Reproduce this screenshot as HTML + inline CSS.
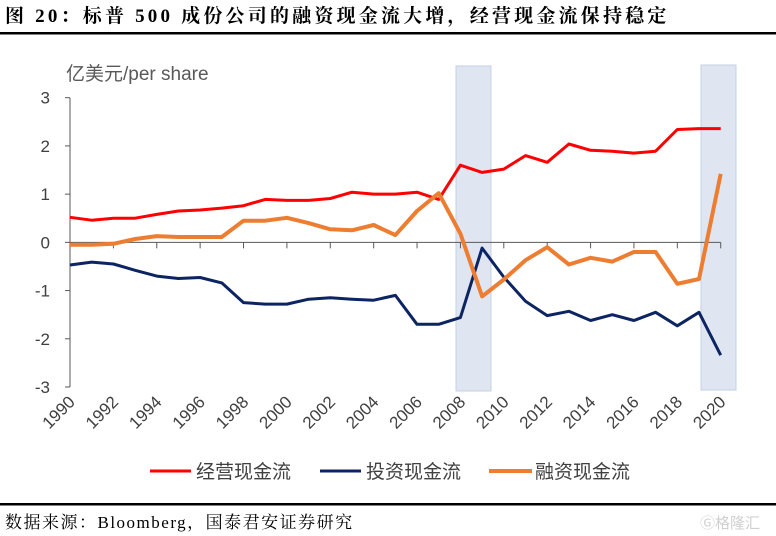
<!DOCTYPE html>
<html><head><meta charset="utf-8">
<style>
body{margin:0;background:#fff;width:776px;height:536px;overflow:hidden;}
svg{display:block;}
</style></head>
<body>
<svg id="chart" width="776" height="536" xmlns="http://www.w3.org/2000/svg">
<text x="5" y="22" font-family="'Liberation Serif','Noto Serif CJK SC',serif" font-weight="bold" font-size="19" letter-spacing="3.2" fill="#000">图 20：标普 500 成份公司的融资现金流大增，经营现金流保持稳定</text>
<rect x="0" y="32" width="776" height="2.5" fill="#000"/>
<rect x="456" y="66" width="35" height="325" fill="#dfe6f2" stroke="#c5d0e2" stroke-width="1"/>
<rect x="701" y="65" width="35" height="325" fill="#dfe6f2" stroke="#c5d0e2" stroke-width="1"/>
<text x="66" y="80" font-family="'Liberation Sans','Noto Sans CJK SC',sans-serif" font-size="19" fill="#595959">亿美元/per share</text>
<g id="axes"></g>
<g id="series"></g>
<g font-family="'Liberation Sans','Noto Sans CJK SC',sans-serif" font-size="19" fill="#404040">
<line x1="150" y1="471" x2="191" y2="471" stroke="#ff0000" stroke-width="3"/>
<text x="196" y="478">经营现金流</text>
<line x1="320" y1="471" x2="361" y2="471" stroke="#0c2461" stroke-width="3"/>
<text x="366" y="478">投资现金流</text>
<line x1="489" y1="471" x2="532" y2="471" stroke="#ed7d31" stroke-width="4"/>
<text x="535" y="478">融资现金流</text>
</g>
<rect x="0" y="503" width="776" height="2.5" fill="#000"/>
<text x="5" y="528" font-family="'Liberation Serif','Noto Serif CJK SC',serif" font-size="17" letter-spacing="1.5" fill="#000">数据来源：Bloomberg，国泰君安证券研究</text>
<text x="700" y="528" font-family="'Liberation Sans','Noto Sans CJK SC',sans-serif" font-size="15" fill="#d0d0d0">Ⓖ格隆汇</text>
</svg>
<script>
const years=[1990,1991,1992,1993,1994,1995,1996,1997,1998,1999,2000,2001,2002,2003,2004,2005,2006,2007,2008,2009,2010,2011,2012,2013,2014,2015,2016,2017,2018,2019,2020];
const operating=[0.52,0.46,0.5,0.5,0.58,0.65,0.67,0.71,0.76,0.89,0.87,0.87,0.91,1.04,1.0,1.0,1.04,0.89,1.6,1.45,1.52,1.8,1.66,2.04,1.91,1.89,1.85,1.89,2.34,2.36,2.36];
const investing=[-0.47,-0.41,-0.45,-0.58,-0.7,-0.75,-0.73,-0.84,-1.25,-1.28,-1.28,-1.18,-1.15,-1.18,-1.2,-1.1,-1.7,-1.7,-1.56,-0.12,-0.72,-1.22,-1.52,-1.43,-1.62,-1.5,-1.62,-1.45,-1.73,-1.45,-2.34];
const financing=[-0.05,-0.05,-0.03,0.07,0.13,0.11,0.11,0.11,0.45,0.45,0.51,0.4,0.27,0.25,0.36,0.15,0.65,1.02,0.18,-1.12,-0.77,-0.37,-0.1,-0.46,-0.32,-0.4,-0.2,-0.2,-0.86,-0.76,1.42];
const yTicks=[3,2,1,0,-1,-2,-3];
const xTickLabels=["1990","1992","1994","1996","1998","2000","2002","2004","2006","2008","2010","2012","2014","2016","2018","2020"];

const NS="http://www.w3.org/2000/svg";
const X0=70,X1=720.7,Y3=97.7,Yn3=387;
function xs(i){return X0+(X1-X0)*i/(years.length-1);}
function ys(v){return Y3+(3-v)*(Yn3-Y3)/6;}
function mk(t,a,p){const e=document.createElementNS(NS,t);for(const k in a)e.setAttribute(k,a[k]);p.appendChild(e);return e;}
const ax=document.getElementById('axes');
let yl=mk('line',{x1:X0,y1:Y3,x2:X0,y2:Yn3,stroke:'#595959','stroke-width':1},ax);


yTicks.forEach(v=>{
  const t=mk('line',{x1:X0-5,y1:ys(v),x2:X0,y2:ys(v),stroke:'#595959'},ax);
  
  
  const l=mk('text',{x:X0-20,y:ys(v)+6,'text-anchor':'end','font-family':"'Liberation Sans',sans-serif",'font-size':17,fill:'#404040'},ax);
  l.textContent=String(v);
  
  
});
let xl=mk('line',{x1:X0,y1:ys(0),x2:X1,y2:ys(0),stroke:'#595959','stroke-width':1},ax);


xTickLabels.forEach(s=>{
  const i=years.indexOf(+s);const x=xs(i);
  const t=mk('line',{x1:x,y1:ys(0),x2:x,y2:ys(0)+6,stroke:'#595959'},ax);
  
  
  const l=mk('text',{x:x+6,y:403,'text-anchor':'end','font-family':"'Liberation Sans',sans-serif",'font-size':17,fill:'#404040',transform:`rotate(-45 ${x+6} 403)`},ax);
  l.textContent=s;
  
  
});
const sg=document.getElementById('series');
function line(data,color,w,name){
  const d=data.map((v,i)=>(i?'L':'M')+xs(i).toFixed(1)+' '+ys(v).toFixed(1)).join(' ');
  const p=mk('path',{d:d,fill:'none',stroke:color,'stroke-width':w,'stroke-linejoin':'round'},sg);
  
  
}
line(operating,'#ff0000',3,'operating-cash-flow-line');
line(investing,'#0c2461',3,'investing-cash-flow-line');
line(financing,'#ed7d31',4,'financing-cash-flow-line');
</script>
</body></html>
